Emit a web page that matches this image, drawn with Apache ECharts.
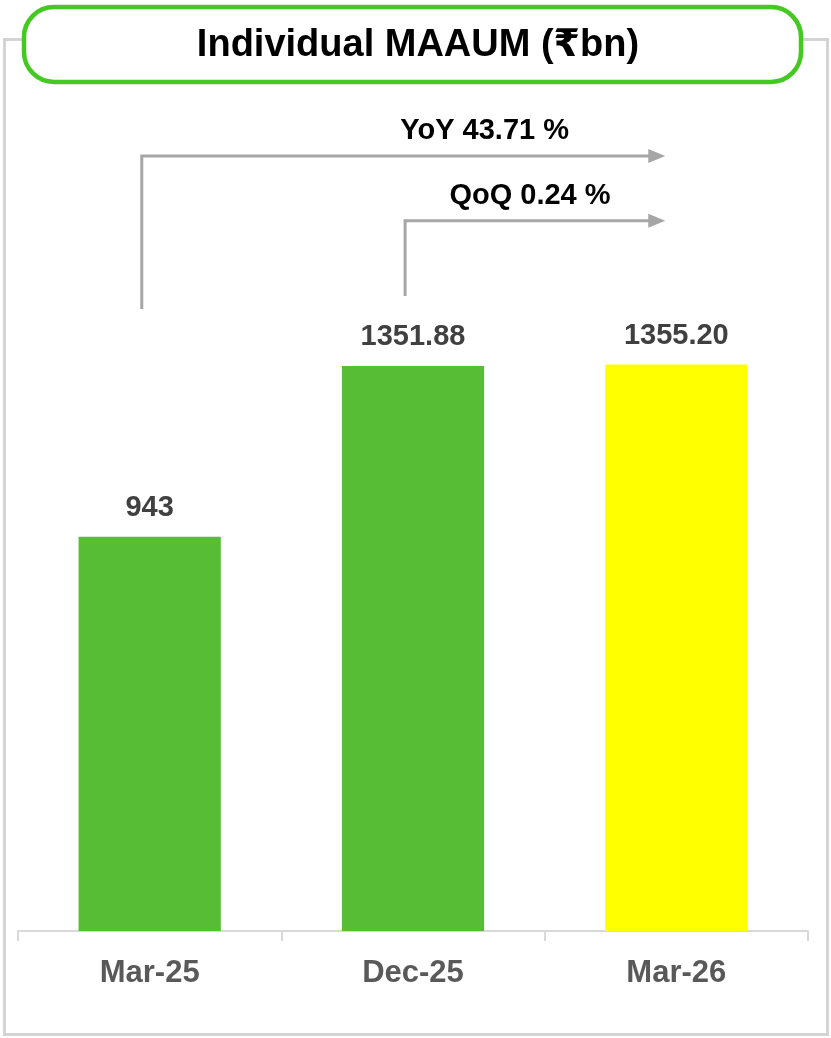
<!DOCTYPE html>
<html>
<head>
<meta charset="utf-8">
<script src="https://cdn.jsdelivr.net/npm/echarts@6/dist/echarts.min.js"></script>
<style>
  html, body { margin: 0; padding: 0; background: #ffffff; }
  #chart { width: 831px; height: 1038px; }
</style>
</head>
<body>
<div id="chart"></div>
<script>
// Individual MAAUM by period (₹ bn)
const categories = ['Mar-25', 'Dec-25', 'Mar-26'];
const values = [943, 1351.88, 1355.20];
const valueLabels = ['943', '1351.88', '1355.20'];
const barColors = ['#56bd34', '#56bd34', '#ffff00'];

// Growth callouts: from-category index, to-category index, stem base value, arm value
const growthText = ['YoY 43.71 %', 'QoQ 0.24 %'];
const growthFrom = [0, 1];
const growthTo = [2, 2];
const growthBase = [1488, 1519];
const growthArm = [1854, 1699];

const FONT = '"Liberation Sans", "DejaVu Sans", "Noto Sans", sans-serif';

// Horizontal placement of each callout label, as a fraction of its arm
const labelFrac = [0.655, 0.48];

const chart = echarts.init(document.getElementById('chart'), null, { renderer: 'canvas' });

const arrowData = growthText.map((t, i) => [growthFrom[i], growthTo[i], growthBase[i], growthArm[i], i]);

const option = {
  backgroundColor: '#ffffff',
  animation: false,
  grid: { left: 18, right: 23, top: 95, bottom: 107, containLabel: false },
  xAxis: {
    type: 'category',
    data: categories,
    axisLine: { lineStyle: { color: '#d9d9d9', width: 2 } },
    axisTick: { show: true, length: 10, lineStyle: { color: '#d9d9d9', width: 2 } },
    axisLabel: { color: '#595959', fontSize: 31, fontWeight: 'bold', fontFamily: FONT, margin: 27 },
    splitLine: { show: false }
  },
  yAxis: {
    type: 'value',
    min: 0,
    max: 2000,
    show: false,
    splitLine: { show: false }
  },
  series: [
    {
      type: 'bar',
      barWidth: '54%',
      data: values.map((v, i) => ({ value: v, itemStyle: { color: barColors[i] } })),
      label: {
        show: true,
        position: 'top',
        distance: 14,
        color: '#404040',
        fontSize: 29,
        fontWeight: 'bold',
        fontFamily: FONT,
        formatter: p => valueLabels[p.dataIndex]
      }
    },
    {
      type: 'custom',
      coordinateSystem: 'cartesian2d',
      data: arrowData,
      silent: true,
      z: 5,
      renderItem: (params, api) => {
        const from = api.value(0), to = api.value(1);
        const base = api.value(2), arm = api.value(3);
        const idx = api.value(4);
        const band = api.size([1, 0])[0];
        const p0 = api.coord([from, base]);
        const p1 = api.coord([from, arm]);
        const p2 = api.coord([to, arm]);
        const x0 = p0[0] - band * 0.03;
        const tip = p2[0] - band * 0.042;
        const head = 17;
        const color = '#a6a6a6';
        const tx = x0 + (tip - x0) * labelFrac[idx];
        return {
          type: 'group',
          children: [
            {
              type: 'polyline',
              shape: { points: [[x0, p0[1]], [x0, p1[1]], [tip - head + 2, p2[1]]] },
              style: { stroke: color, lineWidth: 3, fill: null }
            },
            {
              type: 'polygon',
              shape: { points: [[tip - head, p2[1] - 7], [tip, p2[1]], [tip - head, p2[1] + 7]] },
              style: { fill: color }
            },
            {
              type: 'text',
              x: tx,
              y: p1[1] - 25,
              style: {
                text: growthText[idx],
                fill: '#000000',
                font: 'bold 29px ' + FONT,
                align: 'center',
                verticalAlign: 'middle'
              }
            }
          ]
        };
      }
    }
  ],
  graphic: [
    {
      type: 'rect',
      z: 0,
      shape: { x: 4.5, y: 39.5, width: 823, height: 995 },
      style: { fill: null, stroke: '#d4d4d4', lineWidth: 3 }
    },
    {
      type: 'rect',
      z: 10,
      shape: { x: 24, y: 7, width: 777, height: 75, r: 30 },
      style: { fill: '#ffffff', stroke: '#43c91f', lineWidth: 4.5 }
    },
    {
      type: 'text',
      z: 11,
      x: 418,
      y: 46,
      style: {
        text: 'Individual MAAUM (₹bn)',
        fill: '#000000',
        font: 'bold 38px ' + FONT,
        align: 'center',
        verticalAlign: 'middle'
      }
    }
  ]
};

chart.setOption(option);
</script>
</body>
</html>
